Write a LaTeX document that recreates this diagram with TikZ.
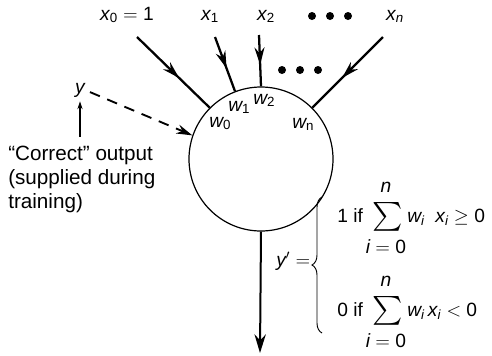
\documentclass[tikz,border=0pt]{standalone}
\usepackage{amsmath}
\usepackage{graphicx}
\usepackage{fontspec}
\setmainfont{Liberation Sans}
\usetikzlibrary{arrows.meta,decorations.markings,decorations.pathreplacing}

% sans italic variable and upright sans number inside math
\newcommand{\sv}[1]{\text{\itshape #1}}
\newcommand{\sn}[1]{\text{#1}}
\newcommand{\bigsum}{\scalebox{1.5}{$\sum$}}

\begin{document}
\begin{tikzpicture}[x=0.75pt, y=-0.75pt,
  every node/.style={font=\fontsize{14.4}{18}\selectfont, inner sep=0pt},
  inarr/.style={line width=1.7pt, postaction={decorate},
    decoration={markings, mark=at position 0.58 with {\arrow{Stealth[length=13pt,width=7.5pt]}}}},
  dasharr/.style={line width=1.4pt, dash pattern=on 8pt off 6pt, -{Stealth[length=12pt,width=7pt]}},
  outarr/.style={line width=1.5pt, -{Stealth[length=14pt,width=8.5pt]}},
  uparr/.style={line width=0.8pt, -{Stealth[length=6pt,width=4pt]}},
  sigma/.style={inner ysep=-5pt},
  neuron/.style={draw, circle, line width=0.9pt, minimum size=108pt}]
  \useasboundingbox (0,0) rectangle (492,355);

  % the unit
  \node[neuron] (n) at (261,159) {};

  % inputs
  \node[anchor=base] (x0) at (127,20) {$\sv{x}_{\sn{0}} = \sn{1}$};
  \node[anchor=base] (x1) at (210,20) {$\sv{x}_{\sn{1}}$};
  \node[anchor=base] (x2) at (266,20) {$\sv{x}_{\sn{2}}$};
  \node[anchor=base] (xn) at (395,20) {$\sv{x}_{\sv{n}}$};
  \foreach \dx in {312,330,348} \fill (\dx,16) circle (4);
  \foreach \dx in {282,300,318} \fill (\dx,70) circle (4);

  \coordinate (s0) at (137,37);
  \coordinate (s1) at (215,37);
  \coordinate (s2) at (259,35);
  \coordinate (sn) at (383,37);
  \draw[inarr] (s0) -- (n.135);
  \draw[inarr] (s1) -- (n.111);
  \draw[inarr] (s2) -- (n.90);
  \draw[inarr] (sn) -- (n.45);

  % weights
  \node[anchor=base west] (w0) at (209,127) {$\sv{w}_{\sn{0}}$};
  \node[anchor=base west] (w1) at (228,111) {$\sv{w}_{\sn{1}}$};
  \node[anchor=base west] (w2) at (253,104) {$\sv{w}_{\sn{2}}$};
  \node[anchor=base west] (wn) at (292,128) {$\sv{w}_{\sn{n}}$};

  % desired output
  \node (y) at (80,90) {$\sv{y}$};
  \node[anchor=north west, align=left, font=\fontsize{15.5}{18}\selectfont] (corr) at (8,146)
    {``Correct'' output\\(supplied during\\training)};
  \draw[dasharr, shorten <=4pt] (y.east) -- (n.161);
  \draw[uparr, shorten <=7pt, shorten >=3pt] (y |- corr.north) -- (y.south);

  % output
  \coordinate (out) at (260,353);
  \draw[outarr] (n.south) -- (out);
  \node[anchor=base west] (yp) at (276,266) {$\sv{y}' =$};
  \draw[line width=0.7pt, decorate, decoration={brace, amplitude=7.5pt}]
    (322,333) -- (322,197);

  \node[anchor=base west] (if1) at (337,222) {1 if};
  \node[sigma] (sg1) at (388,217) {\bigsum};
  \node[anchor=base] (up1) at (386,192) {$\sv{n}$};
  \node[anchor=base] (lo1) at (386,253) {$\sv{i} = \sn{0}$};
  \node[anchor=base west] (t1) at (407,222)
    {$\sv{w}_{\sv{i}}\ \ \sv{x}_{\sv{i}} \ge \sn{0}$};

  \node[anchor=base west] (if2) at (337,316) {0 if};
  \node[sigma] (sg2) at (388,311) {\bigsum};
  \node[anchor=base] (up2) at (386,286) {$\sv{n}$};
  \node[anchor=base] (lo2) at (386,347) {$\sv{i} = \sn{0}$};
  \node[anchor=base west] (t2) at (407,316)
    {$\sv{w}_{\sv{i}}\,\sv{x}_{\sv{i}} < \sn{0}$};
\end{tikzpicture}
\end{document}
